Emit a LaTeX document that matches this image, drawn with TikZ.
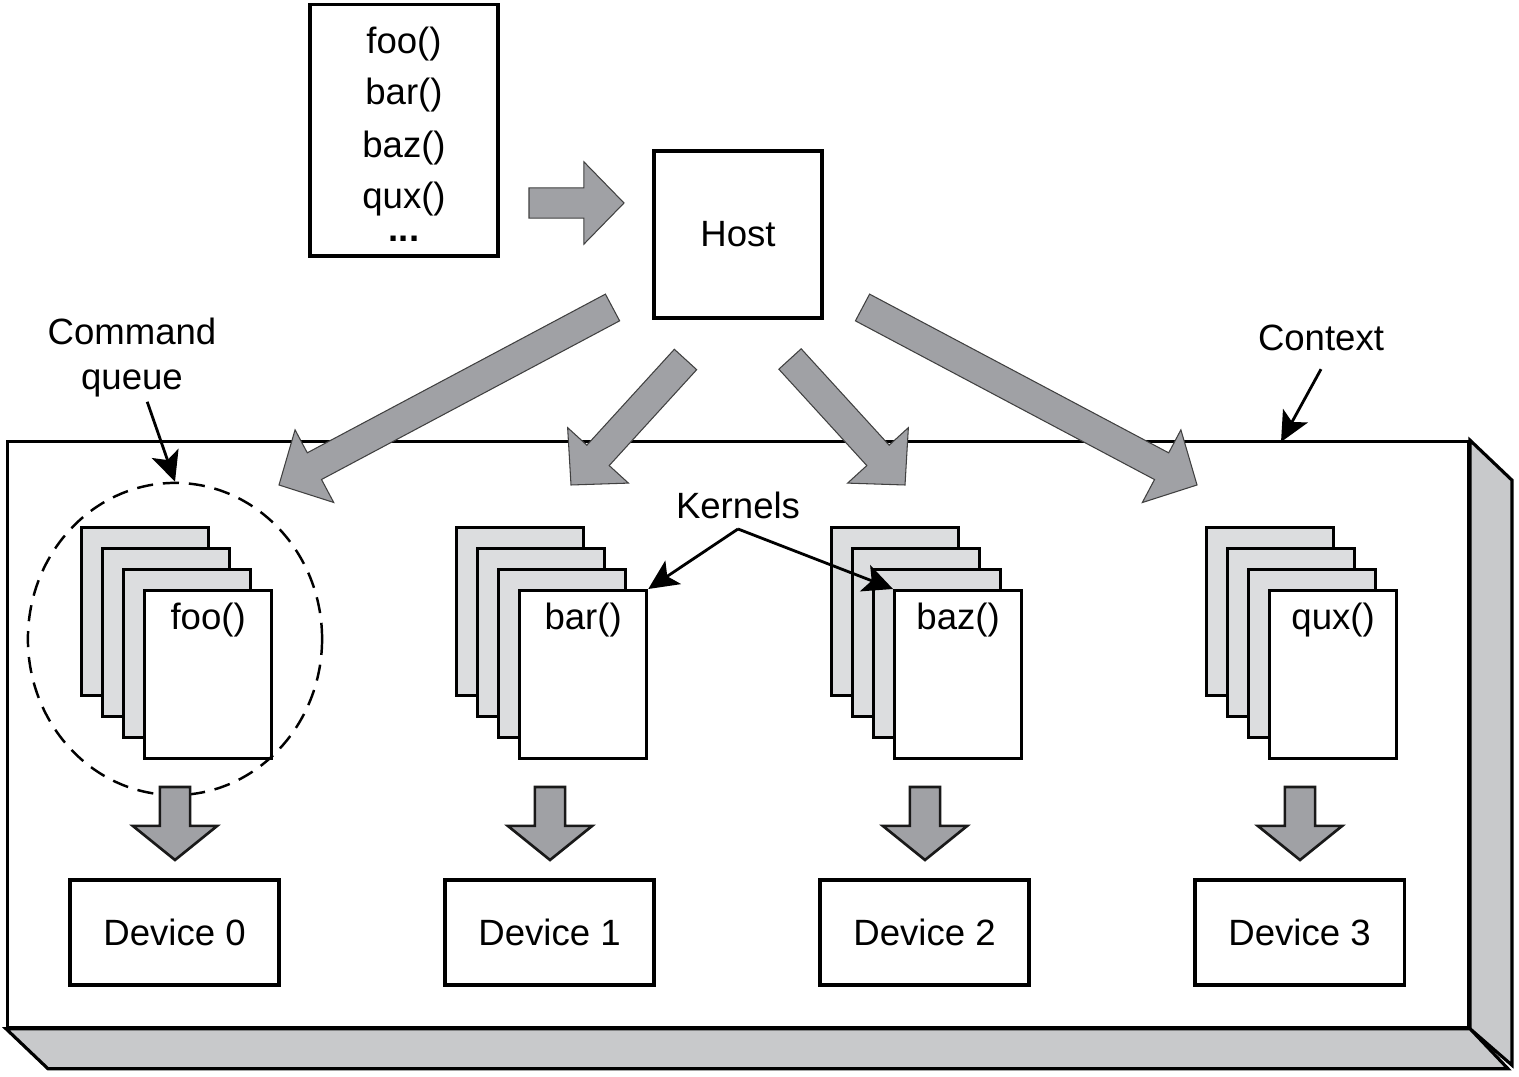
\documentclass[tikz,border=0pt]{standalone}
\usepackage{fontspec}
\setmainfont{Liberation Sans}
\usetikzlibrary{arrows.meta,calc,shapes.geometric}
\definecolor{arrowgray}{RGB}{160,161,165}
\definecolor{pagegray}{RGB}{220,221,223}
\definecolor{sidegray}{RGB}{200,201,203}
\tikzstyle{box}=[draw,line width=0.9pt,fill=white,inner sep=0pt]
\tikzstyle{pagebox}=[box,minimum width=1.27cm,minimum height=1.68cm]
\tikzstyle{devbox}=[box,minimum width=2.09cm,minimum height=1.05cm]
\tikzstyle{tag}=[inner sep=1pt,align=center]
\tikzstyle{fatarrow}=[draw=black!75,line width=0.3pt,fill=arrowgray]
\tikzstyle{fatdown}=[draw=black!90,line width=0.75pt,fill=arrowgray]
\tikzstyle{pointer}=[line width=0.8pt,-{Stealth[length=8.5pt,width=8pt,inset=2pt]}]

\begin{document}
\begin{tikzpicture}[x=0.01cm,y=-0.01cm,every node/.style={font=\fontsize{10.4pt}{12.8pt}\selectfont}]
    \useasboundingbox (0,0) rectangle (1519,1077);
    % The context, drawn as a slab
    \node[box,minimum width=14.6cm,minimum height=5.85cm] (context) at (738,734.5) {};
    \path[draw,line width=0.9pt,fill=sidegray] (context.north east) -- ++(42,40) -- ++(0,585) -- (context.south east) -- cycle;
    \path[draw,line width=0.9pt,fill=sidegray] (context.south west) -- ++(42,40) -- ++(1460,0) -- (context.south east) -- cycle;
    % Program and host
    \node[box,minimum width=1.88cm,minimum height=2.51cm] (list) at (404,130.5) {};
    \foreach \y/\f/\n in {44/foo/0, 95/bar/1, 148/baz/2, 199/qux/3}
        \node (fn\n) at (404,\y) {\f()};
    \node (dots) at (404,239) {\textbf{...}};
    \node[box,minimum width=1.68cm,minimum height=1.67cm] (host) at (738,234.5) {Host};
    % Command queues, one stack of kernels per device
    \foreach \q/\k in {0/foo, 1/bar, 2/baz, 3/qux} {
        \foreach \p in {0,1,2}
            \node[pagebox,fill=pagegray,anchor=north west] (q\q p\p) at ({80+375*\q+21*\p},{526+21*\p}) {};
        \node[pagebox,anchor=north west] (q\q p3) at ({143+375*\q},589) {};
        \node (k\q) at ($(q\q p3.north)+(0,31)$) {\k()};
    }
    \node[ellipse,draw,line width=0.7pt,dash pattern=on 4.6pt off 2.8pt,minimum width=2.94cm,minimum height=3.12cm,inner sep=0pt] (queue) at (175,639) {};
    % Devices
    \foreach \d in {0,...,3} {
        \node[devbox] (dev\d) at ({174.5+375*\d},932.5) {Device \d};
        \coordinate (din\d) at ({175+375*\d},787);
        \coordinate (dout\d) at ({175+375*\d},860);
    }
    % Ends of the broad arrows
    \coordinate (lst) at (529,203);
    \coordinate (hst) at (624,203);
    \foreach \i/\a/\b/\c/\e in {0/612.5/307.5/279/485, 1/685.5/359.5/571/485, 2/790/359/905/485, 3/862.5/307.5/1197/485} {
        \coordinate (h\i) at (\a,\b);
        \coordinate (t\i) at (\c,\e);
    }
    \foreach \from/\to in {lst/hst, h0/t0, h1/t1, h2/t2, h3/t3} {
        \coordinate (base) at ($(\to)!11.4pt!(\from)$);
        \path[fatarrow] ($(\from)!4.3pt!90:(\to)$) -- ($(base)!4.3pt!90:(\to)$) -- ($(base)!11.7pt!90:(\to)$) -- (\to)
            -- ($(base)!11.7pt!-90:(\to)$) -- ($(base)!4.3pt!-90:(\to)$) -- ($(\from)!4.3pt!-90:(\to)$) -- cycle;
    }
    \foreach \d in {0,...,3} {
        \coordinate (base) at ($(dout\d)!9.7pt!(din\d)$);
        \path[fatdown] ($(din\d)!4.3pt!90:(dout\d)$) -- ($(base)!4.3pt!90:(dout\d)$) -- ($(base)!12pt!90:(dout\d)$) -- (dout\d)
            -- ($(base)!12pt!-90:(dout\d)$) -- ($(base)!4.3pt!-90:(dout\d)$) -- ($(din\d)!4.3pt!-90:(dout\d)$) -- cycle;
    }
    % Labels and pointers
    \node[tag] (cmdq) at (132,358) {Command\\queue};
    \draw[pointer] (cmdq) -- (queue.north);
    \node[tag] (ctx) at (1321,338) {Context};
    \coordinate (ctxpt) at (1281,442);
    \draw[pointer] ($(ctx.south)+(0,14)$) -- (ctxpt);
    \node[tag] (kern) at (738,505) {Kernels};
    \coordinate (kfork) at (738,529);
    \draw[pointer] (kfork) -- (q1p3.north east);
    \draw[pointer] (kfork) -- (q2p3.north west);
\end{tikzpicture}
\end{document}
